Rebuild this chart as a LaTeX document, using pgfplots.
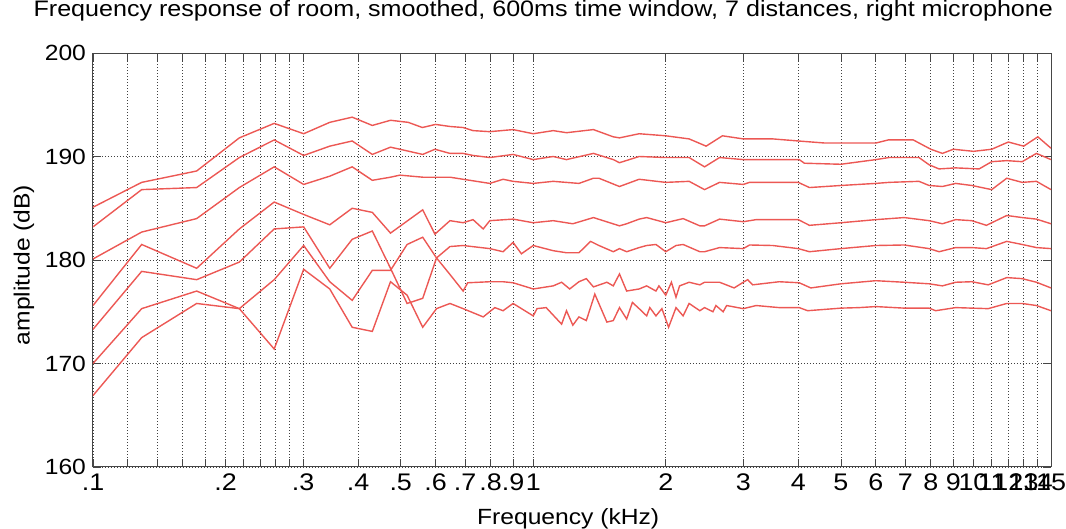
\documentclass[border=0pt]{standalone}
\usepackage{fontspec}
\setmainfont{Liberation Sans}[FakeStretch=1.12]
\usepackage{pgfplots}
\pgfplotsset{compat=1.18}
\definecolor{linered}{RGB}{236,88,84}
\definecolor{axgray}{RGB}{70,70,70}
\begin{document}
\begin{tikzpicture}
\path[use as bounding box] (0,0) rectangle (533pt,264.5pt);
\begin{axis}[
  at={(46.5pt,31pt)}, anchor=south west,
  scale only axis, width=479pt, height=207pt,
  xmode=log, xmin=0.1, xmax=15, ymin=160, ymax=200,
  xtick={0.1,0.2,0.3,0.4,0.5,0.6,0.7,0.8,0.9,1,2,3,4,5,6,7,8,9,10,11,12,13,14,15},
  xticklabels={.1,.2,.3,.4,.5,.6,.7,.8,.9,1,2,3,4,5,6,7,8,9,10,11,12,13,14,15},
  minor xtick={0.12,0.14,0.16,0.18,0.22,0.24,0.26,0.28},
  ytick={160,170,180,190,200}, yticklabels={160,170,180,190,200},
  grid=both,
  major grid style={black!75, line width=0.35pt, dash pattern=on 0.6pt off 0.9pt},
  minor grid style={black!75, line width=0.35pt, dash pattern=on 0.6pt off 0.9pt},
  tick align=inside, major tick length=4pt, minor tick length=4pt,
  tick style={axgray, line width=0.4pt},
  axis line style={axgray, line width=0.5pt},
  xtick pos=both, ytick pos=both,
  tick label style={font=\fontsize{11}{13}\selectfont, text=black},
  xticklabel style={font=\fontsize{12}{14}\selectfont},
  xlabel={Frequency (kHz)}, ylabel={amplitude (dB)},
  title={Frequency response of room, smoothed, 600ms time window, 7 distances, right microphone},
  label style={font=\fontsize{11}{13}\selectfont},
  title style={font=\fontsize{11.2}{13}\selectfont, at={(axis description cs:0.47,1.058)}, anchor=base},
  xlabel style={at={(axis description cs:0.496,-0.138)}, anchor=base},
  ylabel style={at={(axis description cs:-0.072,0.488)}, anchor=center},
  cycle list={{linered, solid, line width=0.7pt, mark=none}},
  every axis plot post/.append style={linered, solid, line width=0.7pt, mark=none},
]
% A
\addplot coordinates {(0.1,185.1)(0.129,187.5)(0.172,188.6)(0.215,191.8)(0.258,193.2)(0.301,192.2)(0.345,193.3)(0.388,193.8)(0.431,193.0)(0.474,193.5)(0.52,193.3)(0.56,192.8)(0.6,193.1)(0.647,192.9)(0.693,192.8)(0.73,192.5)(0.797,192.4)(0.9,192.6)(1.0,192.2)(1.11,192.5)(1.19,192.3)(1.37,192.6)(1.52,191.9)(1.57,191.8)(1.74,192.2)(2.0,192.0)(2.26,191.7)(2.47,191.0)(2.69,192.0)(3.0,191.7)(3.5,191.7)(4.0,191.5)(4.6,191.3)(5.0,191.3)(6.0,191.3)(6.4,191.6)(7.3,191.6)(8.0,190.7)(8.5,190.3)(9.0,190.7)(10.0,190.5)(11.0,190.7)(12.0,191.4)(13.0,191.0)(14.0,191.9)(15.0,190.8)};
% B
\addplot coordinates {(0.1,183.2)(0.129,186.8)(0.172,187.0)(0.215,189.9)(0.258,191.6)(0.301,190.1)(0.345,191.0)(0.388,191.5)(0.431,190.2)(0.474,190.9)(0.498,190.7)(0.561,190.2)(0.598,190.7)(0.647,190.3)(0.693,190.3)(0.73,190.1)(0.797,189.9)(0.9,190.2)(1.0,189.7)(1.11,190.0)(1.19,189.7)(1.37,190.3)(1.52,189.7)(1.57,189.4)(1.74,190.0)(2.0,189.9)(2.26,189.9)(2.45,189.0)(2.65,189.9)(3.0,189.7)(3.21,189.7)(3.62,189.7)(4.02,189.7)(4.13,189.35)(5.0,189.25)(6.0,189.7)(6.43,189.9)(7.52,189.9)(7.93,189.2)(8.35,188.8)(9.11,188.9)(10.3,188.8)(11.0,189.5)(11.9,189.6)(12.9,189.5)(13.9,190.3)(15,189.7)};
% C
\addplot coordinates {(0.1,180.1)(0.129,182.7)(0.172,184.0)(0.215,187.0)(0.258,189.0)(0.301,187.3)(0.345,188.1)(0.388,189.0)(0.431,187.7)(0.474,188.0)(0.498,188.2)(0.561,188.0)(0.647,188.0)(0.693,187.8)(0.797,187.4)(0.854,187.8)(0.9,187.6)(1.0,187.4)(1.11,187.6)(1.27,187.4)(1.37,187.9)(1.41,187.9)(1.57,187.1)(1.74,187.8)(2.0,187.5)(2.26,187.6)(2.45,186.8)(2.65,187.5)(3.0,187.3)(3.1,187.5)(4.0,187.5)(4.24,187.0)(5.0,187.2)(6.0,187.4)(6.43,187.5)(7.52,187.6)(7.93,187.2)(8.5,187.1)(9.11,187.4)(9.91,187.2)(11.0,186.8)(11.9,187.9)(12.9,187.5)(13.9,187.6)(15,186.8)};
% D
\addplot coordinates {(0.1,175.6)(0.129,181.5)(0.172,179.2)(0.215,183.0)(0.258,185.6)(0.301,184.4)(0.345,183.4)(0.388,185.0)(0.431,184.6)(0.474,182.6)(0.561,184.85)(0.598,182.5)(0.647,183.8)(0.693,183.6)(0.73,183.9)(0.77,183.0)(0.797,183.8)(0.9,183.95)(1.0,183.6)(1.11,183.8)(1.23,183.5)(1.37,184.1)(1.57,183.3)(1.63,183.5)(1.74,183.95)(1.81,184.1)(2.0,183.6)(2.19,184.0)(2.39,183.3)(2.45,183.3)(2.65,183.95)(3.0,183.7)(3.21,183.9)(4.0,183.9)(4.24,183.35)(5.0,183.6)(6.0,183.9)(6.96,184.1)(7.93,183.8)(8.5,183.5)(9.11,183.9)(9.91,183.8)(10.7,183.35)(11.9,184.3)(12.9,184.1)(13.9,183.95)(15,183.5)};
% E
\addplot coordinates {(0.1,173.3)(0.129,178.9)(0.172,178.1)(0.215,179.8)(0.258,183.0)(0.301,183.2)(0.345,179.2)(0.388,182.0)(0.431,182.8)(0.474,179.2)(0.517,175.8)(0.561,176.3)(0.603,180.2)(0.647,181.3)(0.693,181.4)(0.797,181.1)(0.854,180.8)(0.9,181.7)(0.94,180.6)(1.0,181.4)(1.11,180.9)(1.19,180.7)(1.27,180.7)(1.35,181.8)(1.41,181.4)(1.52,180.8)(1.57,181.1)(1.63,180.8)(1.74,181.2)(1.81,181.4)(1.90,181.5)(2.0,180.8)(2.11,181.4)(2.19,181.5)(2.39,180.8)(2.45,180.8)(2.65,181.2)(3.0,181.1)(3.1,181.45)(3.5,181.4)(4.0,181.1)(4.24,180.8)(5.0,181.1)(6.0,181.4)(6.96,181.45)(7.93,181.1)(8.35,180.8)(9.11,181.2)(9.91,181.2)(10.7,181.1)(11.9,181.8)(12.9,181.5)(13.9,181.2)(15,181.1)};
% F
\addplot coordinates {(0.1,170.0)(0.129,175.3)(0.172,177.0)(0.215,175.3)(0.258,178.1)(0.301,181.4)(0.345,177.9)(0.388,176.1)(0.431,179.0)(0.474,179.0)(0.517,181.5)(0.561,182.2)(0.603,180.2)(0.647,178.6)(0.693,177.0)(0.71,177.8)(0.797,177.9)(0.854,177.9)(0.9,177.8)(1.0,177.2)(1.11,177.5)(1.16,177.85)(1.21,177.2)(1.27,177.9)(1.32,178.2)(1.37,177.4)(1.47,177.85)(1.52,177.5)(1.57,178.65)(1.63,177.0)(1.74,177.2)(1.81,177.5)(1.90,177.0)(1.93,177.5)(2.0,176.6)(2.06,177.85)(2.11,176.4)(2.15,177.5)(2.26,177.85)(2.39,177.6)(2.45,177.85)(2.65,177.85)(2.86,177.3)(3.0,177.85)(3.07,178.1)(3.15,177.6)(3.62,177.9)(4.02,177.8)(4.27,177.3)(5.0,177.7)(6.0,178.0)(6.96,177.85)(7.93,177.7)(8.5,177.5)(9.11,177.85)(9.91,177.9)(10.8,177.6)(11.9,178.3)(12.9,178.2)(13.9,177.85)(15,177.3)};
% G
\addplot coordinates {(0.1,166.9)(0.129,172.5)(0.172,175.8)(0.215,175.3)(0.258,171.4)(0.301,179.1)(0.345,177.2)(0.388,173.5)(0.431,173.1)(0.474,177.9)(0.517,176.6)(0.561,173.5)(0.603,175.3)(0.647,175.8)(0.693,175.3)(0.77,174.5)(0.818,175.4)(0.854,175.1)(0.9,175.8)(1.0,174.6)(1.02,175.3)(1.07,175.4)(1.16,173.8)(1.19,175.1)(1.23,173.7)(1.27,174.5)(1.32,174.15)(1.38,176.7)(1.47,174.0)(1.52,174.15)(1.57,175.4)(1.63,174.3)(1.68,175.9)(1.74,175.3)(1.81,174.6)(1.84,175.4)(1.90,174.6)(1.96,175.3)(2.03,173.5)(2.11,175.4)(2.19,174.6)(2.26,175.8)(2.39,175.1)(2.45,175.4)(2.56,175.0)(2.6,175.6)(2.7,175.0)(2.75,175.6)(3.0,175.3)(3.21,175.6)(3.62,175.4)(4.02,175.4)(4.2,175.1)(5.0,175.35)(5.5,175.4)(6.0,175.5)(6.96,175.35)(7.93,175.35)(8.2,175.1)(9.11,175.4)(9.91,175.35)(10.8,175.3)(11.9,175.8)(12.9,175.8)(13.9,175.6)(15,175.1)};
\end{axis}
\end{tikzpicture}
\end{document}
